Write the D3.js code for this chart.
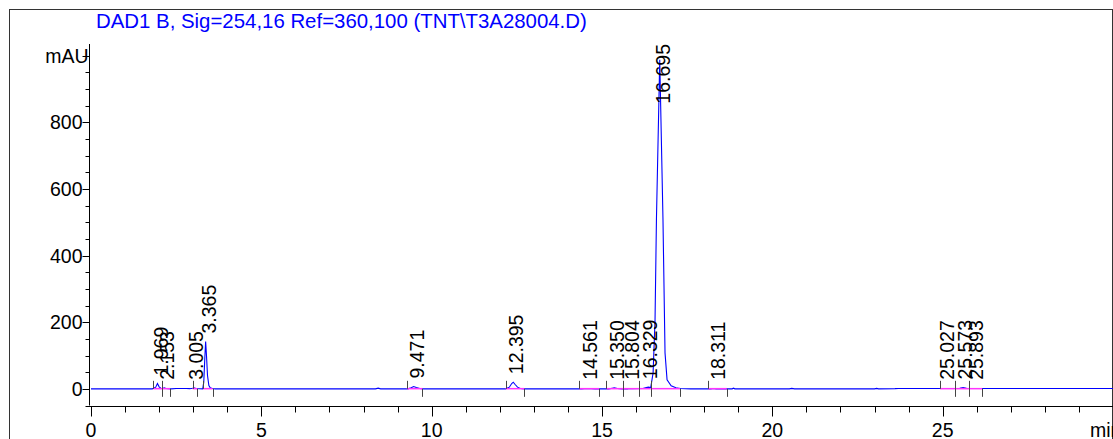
<!DOCTYPE html>
<html lang="en">

<head>
    <meta charset="UTF-8">
    <title>DAD1 B chromatogram</title>
    <script src="https://d3js.org/d3.v7.min.js"></script>
    <style>
        body { margin: 0; background: #fff; }
        svg { display: block; font-family: "Liberation Sans", Arial, sans-serif; }
    </style>
</head>

<body>
    <div id="chart"></div>
</body>
<script>
    //Data
    const title = 'DAD1 B, Sig=254,16 Ref=360,100 (TNT\\T3A28004.D)';
    // signal trace (min, mAU)
    const traceTime = [0, 1.80, 1.90, 1.95, 2.00, 2.05, 2.10, 2.15, 2.20, 2.35, 2.50, 2.60, 2.80, 2.90, 2.98, 3.02, 3.08, 3.28, 3.31, 3.34, 3.365, 3.39, 3.42, 3.46, 3.50, 3.56, 3.65,
        8.35, 8.43, 8.50, 9.30, 9.40, 9.47, 9.55, 9.65, 9.75, 12.17, 12.28, 12.35, 12.395, 12.45, 12.52, 12.60, 12.72,
        14.40, 14.56, 14.80, 15.20, 15.30, 15.36, 15.45, 15.60, 15.75, 15.80, 15.90, 16.20, 16.30, 16.36, 16.43,
        16.50, 16.557, 16.598, 16.695, 16.79, 16.85, 16.91, 17.03, 17.17, 17.30, 17.60, 18.20, 18.26, 18.35, 18.82, 18.86, 18.90,
        20.50, 20.57, 20.65, 23.00, 23.06, 23.12, 23.60, 23.70, 25.00, 25.50, 25.60, 25.70, 26.00, 30];
    const traceSignal = [0, 0, 5, 16, 6, 2, 1, 3, 1, 0, 1, 1, 1, 0.5, 2, 3, 1, 0, 20, 90, 142, 100, 40, 10, 3, 1, 0,
        0, 2, 0, 0, 3, 7, 4, 1, 0, 0, 5, 16, 20, 13, 5, 1, 0,
        0, 1, 0, 0, 2, 3, 1, 0, 0, 1, 0.5, 1, 4, 5, 4,
        48, 207, 508, 988, 508, 108, 27, 9, 3, 1, 0, 0, 1, 0, 0, 2, 0,
        0, 1.5, 0, 0, 1.5, 0, 0.5, 1, 1, 1.5, 4, 1.5, 1, 1];
    // integrated peaks
    const peakLabels = ['1.969', '2.153', '3.005', '3.365', '9.471', '12.395', '14.561', '15.350', '15.804', '16.329', '16.695', '18.311', '25.027', '25.573', '25.893'];
    const peakHeight = [16, 3, 3, 142, 7, 20, 1, 3, 1, 5, 988, 1, 1, 4, 1];
    const peakStart = [1.83, 2.09, 2.985, 3.30, 9.27, 12.17, 14.33, 15.13, 15.62, 16.09, 16.43, 18.12, 24.92, 25.36, 25.78];
    const peakEnd = [2.09, 2.32, 3.12, 3.57, 9.73, 12.72, 14.92, 15.62, 16.09, 16.43, 17.29, 18.66, 25.36, 25.78, 26.16];
    const yTicks = [0, 200, 400, 600, 800];
    const xTicks = [0, 5, 10, 15, 20, 25];

    //Variable
    const width = 1113;
    const height = 439;
    const xScale = d3.scaleLinear().domain([0, 30]).range([91, 1113]);
    const yScale = d3.scaleLinear().domain([-50, 1035]).range([405.5, 44]);
    const trace = traceTime.map((t, i) => [t, traceSignal[i]]);
    const peaks = peakLabels.map((l, i) => ({ label: l, rt: +l, h: peakHeight[i], start: peakStart[i], end: peakEnd[i] }));

    //-SVG
    const svg = d3.select('div#chart')
        .append('svg')
        .attr('width', width)
        .attr('height', height);
    svg.append('rect')
        .attr('x', 9.5).attr('y', 9.5)
        .attr('width', 1103).attr('height', 440)
        .attr('fill', '#fff')
        .attr('stroke', '#333');

    //-Title
    svg.append('text')
        .attr('x', 96)
        .attr('y', 28)
        .attr('fill', '#0000ff')
        .style('font-size', '20.4px')
        .text(title);

    //-GY
    const yAxis = svg.append('g').attr('transform', 'translate(89.5,0)');
    yAxis.append('line')
        .attr('y1', 44).attr('y2', yScale(-50))
        .attr('stroke', '#000');
    yAxis.selectAll('line.minor')
        .data(d3.range(-50, 1001, 50))
        .enter().append('line')
        .attr('class', 'minor')
        .attr('x1', d => d % 200 === 0 ? -7 : -4).attr('x2', 0)
        .attr('y1', d => Math.round(yScale(d)) + 0.5)
        .attr('y2', d => Math.round(yScale(d)) + 0.5)
        .attr('stroke', '#000');
    yAxis.selectAll('text')
        .data(yTicks)
        .enter().append('text')
        .attr('x', -7)
        .attr('y', d => yScale(d))
        .attr('dy', '0.36em')
        .attr('text-anchor', 'end')
        .style('font-size', '19.5px')
        .text(d => d);
    yAxis.append('text')
        .attr('x', -1)
        .attr('y', yScale(1000))
        .attr('dy', '0.36em')
        .attr('text-anchor', 'end')
        .style('font-size', '19.5px')
        .text('mAU');

    //-GX
    const xAxis = svg.append('g').attr('transform', 'translate(0,406.5)');
    xAxis.append('line')
        .attr('x1', 89).attr('x2', 1113)
        .attr('stroke', '#000');
    xAxis.selectAll('line.tick')
        .data(d3.range(0, 31, 1))
        .enter().append('line')
        .attr('class', 'tick')
        .attr('x1', d => Math.round(xScale(d)) + 0.5)
        .attr('x2', d => Math.round(xScale(d)) + 0.5)
        .attr('y1', 0)
        .attr('y2', d => d % 5 === 0 ? 10 : 6)
        .attr('stroke', '#000');
    xAxis.selectAll('text')
        .data(xTicks)
        .enter().append('text')
        .attr('x', d => xScale(d))
        .attr('y', 30)
        .attr('text-anchor', 'middle')
        .style('font-size', '19.5px')
        .text(d => d);
    // axis unit runs off the right edge, as in the source
    xAxis.append('text')
        .attr('x', 1090)
        .attr('y', 30)
        .style('font-size', '19.5px')
        .text('min');

    //-Trace
    const line = d3.line().x(d => xScale(d[0])).y(d => yScale(d[1]));
    svg.append('path')
        .datum(trace)
        .attr('d', line)
        .attr('fill', 'none')
        .attr('stroke', '#0000ff')
        .attr('stroke-width', 1.1);

    //-Baselines
    svg.selectAll('line.base')
        .data(peaks)
        .enter().append('line')
        .attr('class', 'base')
        .attr('x1', d => xScale(d.start))
        .attr('x2', d => xScale(d.end))
        .attr('y1', yScale(0.5))
        .attr('y2', yScale(0.5))
        .attr('stroke', '#ff33ff')
        .attr('stroke-width', 1.5);
    svg.selectAll('line.start')
        .data(peaks)
        .enter().append('line')
        .attr('x1', d => Math.round(xScale(d.start)) + 0.5)
        .attr('x2', d => Math.round(xScale(d.start)) + 0.5)
        .attr('y1', yScale(0) - 8)
        .attr('y2', yScale(0))
        .attr('stroke', '#444');
    svg.selectAll('line.end')
        .data(peaks)
        .enter().append('line')
        .attr('x1', d => Math.round(xScale(d.end)) + 0.5)
        .attr('x2', d => Math.round(xScale(d.end)) + 0.5)
        .attr('y1', yScale(0))
        .attr('y2', yScale(0) + 8)
        .attr('stroke', '#444');

    //-Labels
    svg.selectAll('text.peak')
        .data(peaks)
        .enter().append('text')
        .attr('class', 'peak')
        .style('font-size', '19.5px')
        .text(d => d.label)
        .attr('transform', function (d) {
            const len = this.getComputedTextLength();
            const bottom = Math.max(Math.min(yScale(d.h) - 8, yScale(0) - 9), 44 + len);
            return `translate(${xScale(d.rt) + 10},${bottom}) rotate(-90)`;
        });

</script>

</html>
